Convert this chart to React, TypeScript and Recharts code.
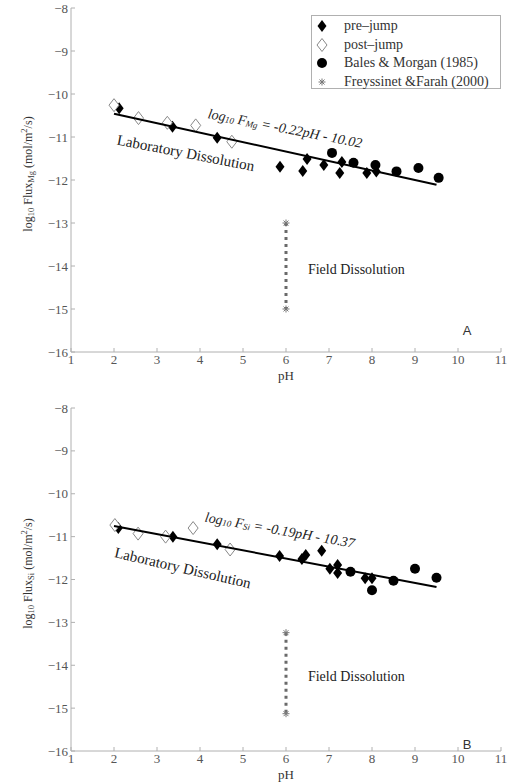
import React from 'react';
import { ScatterChart, Scatter, XAxis, YAxis, ReferenceDot, Legend } from 'recharts';

const phTicks = [1, 2, 3, 4, 5, 6, 7, 8, 9, 10, 11];
const fluxTicks = [-16, -15, -14, -13, -12, -11, -10, -9, -8];

// Panel A (Mg)
const mgPreJump = [
  { pH: 2.12, v: -10.33 }, { pH: 3.36, v: -10.76 }, { pH: 4.4, v: -11.02 }, { pH: 5.86, v: -11.69 },
  { pH: 6.39, v: -11.79 }, { pH: 6.49, v: -11.51 }, { pH: 6.88, v: -11.65 }, { pH: 7.25, v: -11.84 },
  { pH: 7.3, v: -11.58 }, { pH: 7.88, v: -11.84 }, { pH: 8.1, v: -11.8 },
];
const mgPostJump = [
  { pH: 2.0, v: -10.26 }, { pH: 2.57, v: -10.56 }, { pH: 3.24, v: -10.67 }, { pH: 3.9, v: -10.73 }, { pH: 4.74, v: -11.11 },
];
const mgBales = [
  { pH: 7.07, v: -11.37 }, { pH: 7.57, v: -11.6 }, { pH: 8.08, v: -11.65 }, { pH: 8.57, v: -11.8 },
  { pH: 9.08, v: -11.72 }, { pH: 9.55, v: -11.95 },
];
const mgField = [{ pH: 6, v: -13 }, { pH: 6, v: -15 }];
const mgFit = [{ pH: 2, v: -10.46 }, { pH: 9.5, v: -12.11 }];

// Panel B (Si)
const siPreJump = [
  { pH: 2.1, v: -10.8 }, { pH: 3.37, v: -11.0 }, { pH: 4.4, v: -11.18 }, { pH: 5.85, v: -11.45 },
  { pH: 6.37, v: -11.52 }, { pH: 6.46, v: -11.43 }, { pH: 6.83, v: -11.33 }, { pH: 7.02, v: -11.75 },
  { pH: 7.2, v: -11.66 }, { pH: 7.2, v: -11.85 }, { pH: 7.84, v: -11.97 }, { pH: 8.0, v: -11.97 },
];
const siPostJump = [
  { pH: 2.02, v: -10.73 }, { pH: 2.56, v: -10.93 }, { pH: 3.2, v: -11.0 }, { pH: 3.84, v: -10.8 }, { pH: 4.7, v: -11.3 },
];
const siBales = [
  { pH: 7.5, v: -11.82 }, { pH: 8.0, v: -12.25 }, { pH: 8.5, v: -12.03 }, { pH: 9.0, v: -11.75 }, { pH: 9.5, v: -11.96 },
];
const siField = [{ pH: 6, v: -13.24 }, { pH: 6, v: -15.13 }];
const siFit = [{ pH: 2, v: -10.75 }, { pH: 9.5, v: -12.175 }];

const legendNames = ['pre\u2013jump', 'post\u2013jump', 'Bales & Morgan (1985)', 'Freyssinet &Farah (2000)'];

const FONT = 'Liberation Serif, Tinos, Times New Roman, Times, serif';
const AXIS = '#b0b0b0';
const TICKTXT = '#555';

const FilledDiamond = (p: any) => (
  <polygon points={`${p.cx},${p.cy - 6} ${p.cx + 4.5},${p.cy} ${p.cx},${p.cy + 6} ${p.cx - 4.5},${p.cy}`} fill="#000" />
);
const OpenDiamond = (p: any) => (
  <polygon points={`${p.cx},${p.cy - 6.5} ${p.cx + 5},${p.cy} ${p.cx},${p.cy + 6.5} ${p.cx - 5},${p.cy}`} fill="#fff" stroke="#888" strokeWidth={1} />
);
const FilledCircle = (p: any) => <circle cx={p.cx} cy={p.cy} r={5} fill="#000" />;
const Star = (p: any) => {
  const s = 3.5;
  return (
    <g stroke="#777" strokeWidth={1}>
      <line x1={p.cx - s} y1={p.cy} x2={p.cx + s} y2={p.cy} />
      <line x1={p.cx} y1={p.cy - s} x2={p.cx} y2={p.cy + s} />
      <line x1={p.cx - s * 0.7} y1={p.cy - s * 0.7} x2={p.cx + s * 0.7} y2={p.cy + s * 0.7} />
      <line x1={p.cx - s * 0.7} y1={p.cy + s * 0.7} x2={p.cx + s * 0.7} y2={p.cy - s * 0.7} />
    </g>
  );
};
const NoShape = () => <g />;

const fmt = (v: number) => String(v).replace('-', '\u2212');

const LegendBox = () => {
  const markers = [
    <polygon key="a" points="7,1 11.5,7 7,13 2.5,7" fill="#000" />,
    <polygon key="b" points="7,0.5 12,7 7,13.5 2,7" fill="#fff" stroke="#888" />,
    <circle key="c" cx={7} cy={7} r={5} fill="#000" />,
    <g key="d" stroke="#777"><line x1={3.5} y1={7} x2={10.5} y2={7} /><line x1={7} y1={3.5} x2={7} y2={10.5} /><line x1={4.5} y1={4.5} x2={9.5} y2={9.5} /><line x1={4.5} y1={9.5} x2={9.5} y2={4.5} /></g>,
  ];
  return (
    <div style={{ border: `1px solid ${AXIS}`, background: '#fff', width: 190, height: 74, boxSizing: 'border-box', paddingTop: 1, fontFamily: FONT, fontSize: 14, color: '#333' }}>
      {legendNames.map((n, i) => (
        <div key={n} style={{ height: 18.5, display: 'flex', alignItems: 'center', whiteSpace: 'nowrap' }}>
          <svg width={14} height={14} style={{ marginLeft: 3, marginRight: 15 }}>{markers[i]}</svg>
          <span>{n}</span>
        </div>
      ))}
    </div>
  );
};

const makeRotText = (parts: any[], angle: number, opts: any = {}) => (props: any) => {
  const vb = props.viewBox || {};
  const cx = vb.x + (vb.width || 0) / 2;
  const cy = vb.y + (vb.height || 0) / 2;
  return (
    <text x={cx} y={cy} textAnchor={opts.anchor || 'middle'} dominantBaseline="central" transform={angle ? `rotate(${angle} ${cx} ${cy})` : undefined}
      style={{ fontFamily: opts.family || FONT }} fontSize={opts.size || 13} fontStyle={opts.italic ? 'italic' : 'normal'} fill={opts.fill || '#222'}>
      {parts}
    </text>
  );
};

const eqParts = (el: string, rest: string) => [
  <tspan key="1">log</tspan>,
  <tspan key="2" dy={3} fontSize={9}>10</tspan>,
  <tspan key="3" dy={-3}> F</tspan>,
  <tspan key="4" dy={3} fontSize={9}>{el}</tspan>,
  <tspan key="5" dy={-3}>{rest}</tspan>,
];

const yLabel = (el: string) => (props: any) => {
  const vb = props.viewBox;
  const x = 28;
  const y = vb.y + vb.height / 2 - 6;
  return (
    <text x={x} y={y} textAnchor="middle" dominantBaseline="central" transform={`rotate(-90 ${x} ${y})`} style={{ fontFamily: FONT }} fontSize={12} fill="#333">
      <tspan>log</tspan><tspan dy={3} fontSize={8.5}>10</tspan><tspan dy={-3}> Flux</tspan><tspan dy={3} fontSize={8.5}>{el}</tspan>
      <tspan dy={-3}> (mol/m</tspan><tspan dy={-4} fontSize={8.5}>2</tspan><tspan dy={4}>/s)</tspan>
    </text>
  );
};

const xLabel = (props: any) => {
  const vb = props.viewBox;
  return (
    <text x={vb.x + vb.width / 2} y={vb.y + 23.5} textAnchor="middle" dominantBaseline="central" style={{ fontFamily: FONT }} fontSize={13} fill="#333">pH</text>
  );
};

type PanelProps = {
  pre: any[]; post: any[]; bales: any[]; field: any[]; fit: any[];
  el: string; eq: string; letter: string; height: number; top: number; bottom: number; showLegend: boolean;
  eqPos: [number, number]; eqAngle: number; labPos: [number, number]; labAngle: number; fieldPos: [number, number]; letterPos: [number, number];
};

const Panel = (p: PanelProps) => {
  const tickStyle = { fontSize: 13, fill: TICKTXT, style: { fontFamily: FONT } };
  return (
    <ScatterChart width={516} height={p.height} margin={{ top: p.top, right: 15, bottom: p.bottom, left: 31 }} style={{ fontFamily: FONT }}>
      <XAxis xAxisId="b" type="number" dataKey="pH" domain={[1, 11]} ticks={phTicks} allowDataOverflow
        stroke={AXIS} tickSize={-4} tickMargin={7} height={30} tick={tickStyle} tickFormatter={fmt} label={{ content: xLabel }} />
      <XAxis xAxisId="t" orientation="top" type="number" dataKey="pH" domain={[1, 11]} ticks={phTicks} allowDataOverflow
        stroke={AXIS} tickSize={-4} height={0} tickFormatter={() => ''} />
      <YAxis yAxisId="l" type="number" dataKey="v" domain={[-16, -8]} ticks={fluxTicks} allowDataOverflow
        stroke={AXIS} tickSize={-4} tickMargin={7} width={40} tick={tickStyle} tickFormatter={fmt} label={{ content: yLabel(p.el) }} />
      <YAxis yAxisId="r" orientation="right" type="number" dataKey="v" domain={[-16, -8]} ticks={fluxTicks} allowDataOverflow
        stroke={AXIS} tickSize={-4} width={0} tickFormatter={() => ''} />
      <Scatter name="field" xAxisId="b" yAxisId="l" data={p.field} isAnimationActive={false}
        line={{ stroke: '#6a6a6a', strokeWidth: 3, strokeDasharray: '3 4' }} shape={Star} />
      <Scatter name="pre" xAxisId="b" yAxisId="l" data={p.pre} isAnimationActive={false} shape={FilledDiamond} />
      <Scatter name="post" xAxisId="b" yAxisId="l" data={p.post} isAnimationActive={false} shape={OpenDiamond} />
      <Scatter name="bales" xAxisId="b" yAxisId="l" data={p.bales} isAnimationActive={false} shape={FilledCircle} />
      <Scatter name="fit" xAxisId="b" yAxisId="l" data={p.fit} isAnimationActive={false}
        line={{ stroke: '#000', strokeWidth: 2 }} shape={NoShape} />
      <ReferenceDot xAxisId="b" yAxisId="l" x={p.eqPos[0]} y={p.eqPos[1]} r={0} fill="none" stroke="none"
        label={{ content: makeRotText(eqParts(p.el, p.eq), p.eqAngle, { italic: true, size: 14 }) }} />
      <ReferenceDot xAxisId="b" yAxisId="l" x={p.labPos[0]} y={p.labPos[1]} r={0} fill="none" stroke="none"
        label={{ content: makeRotText(['Laboratory Dissolution'], p.labAngle, { size: 15 }) }} />
      <ReferenceDot xAxisId="b" yAxisId="l" x={p.fieldPos[0]} y={p.fieldPos[1]} r={0} fill="none" stroke="none"
        label={{ content: makeRotText(['Field Dissolution'], 0, { size: 14, anchor: 'start' }) }} />
      <ReferenceDot xAxisId="b" yAxisId="l" x={p.letterPos[0]} y={p.letterPos[1]} r={0} fill="none" stroke="none"
        label={{ content: makeRotText([p.letter], 0, { size: 13, family: 'Liberation Sans, Arial, sans-serif', fill: '#333' }) }} />
      {p.showLegend && (
        <Legend layout="horizontal" verticalAlign="middle" align="center" content={LegendBox}
          wrapperStyle={{ position: 'absolute', left: 311, top: 15, width: 190, height: 74 }} />
      )}
    </ScatterChart>
  );
};

export default function App() {
  return (
    <div style={{ position: 'absolute', left: 0, top: 0, width: 516, height: 784, background: '#fff', overflow: 'hidden', fontFamily: FONT }}>
      <div style={{ position: 'absolute', left: 0, top: 0 }}>
        <Panel pre={mgPreJump} post={mgPostJump} bales={mgBales} field={mgField} fit={mgFit}
          el="Mg" eq=" = -0.22pH - 10.02" letter="A" height={392} top={8} bottom={10} showLegend
          eqPos={[5.98, -10.79]} eqAngle={11} labPos={[3.67, -11.37]} labAngle={11}
          fieldPos={[6.51, -14.09]} letterPos={[10.21, -15.49]} />
      </div>
      <div style={{ position: 'absolute', left: 0, top: 396 }}>
        <Panel pre={siPreJump} post={siPostJump} bales={siBales} field={siField} fit={siFit}
          el="Si" eq=" = -0.19pH - 10.37" letter="B" height={388} top={12} bottom={3} showLegend={false}
          eqPos={[5.86, -10.84]} eqAngle={10} labPos={[3.6, -11.73]} labAngle={13}
          fieldPos={[6.51, -14.27]} letterPos={[10.21, -15.86]} />
      </div>
    </div>
  );
}
